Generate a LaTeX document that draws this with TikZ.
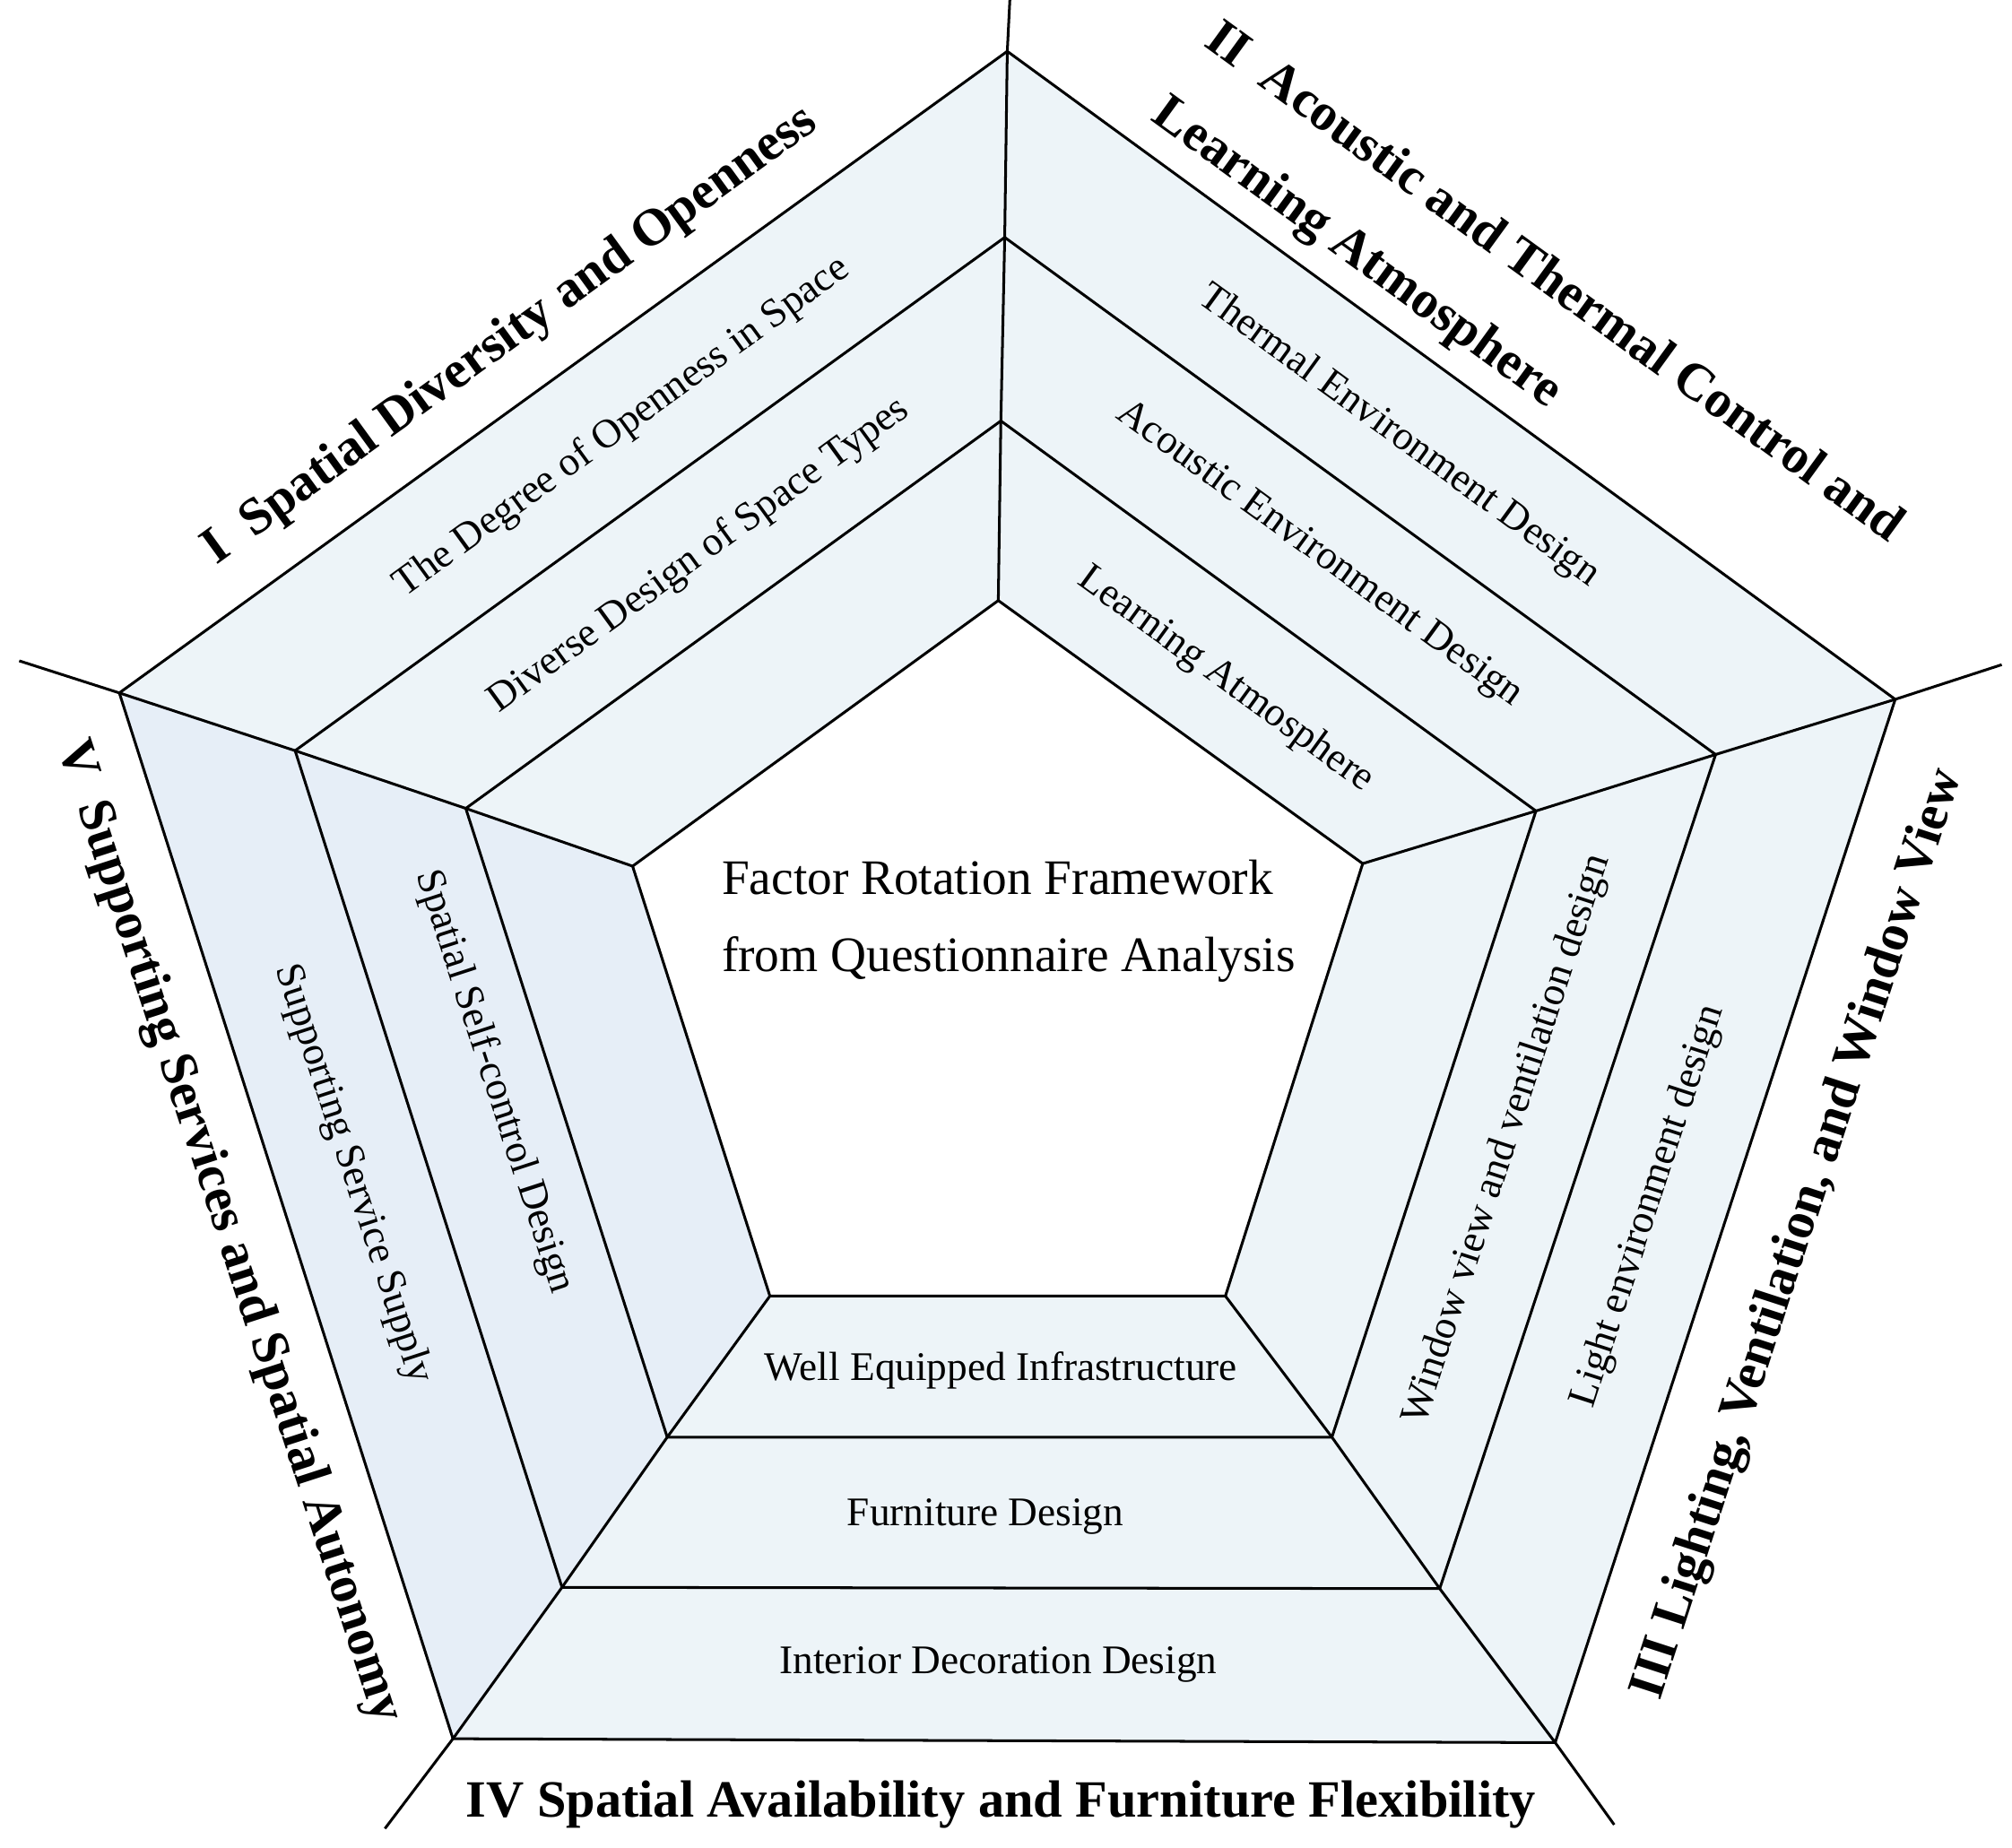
\documentclass[tikz,border=0pt]{standalone}
\usepackage{fontspec}
\setmainfont{Liberation Serif}
\begin{document}
\begin{tikzpicture}[x=0.01cm,y=-0.01cm,
  ln/.style={line width=0.6pt,black},
  ttl/.style={font=\bfseries\fontsize{11.6}{14}\selectfont,inner sep=0},
  lab/.style={font=\fontsize{9}{11}\selectfont,inner sep=0},
  ]
\useasboundingbox (0,0) rectangle (1568,1440);
\definecolor{fillA}{HTML}{EDF4F8}
\definecolor{fillB}{HTML}{E6EEF7}
\coordinate (oT) at (785,40);   \coordinate (oR) at (1477,545);
\coordinate (oBR) at (1212,1358); \coordinate (oBL) at (353,1355);
\coordinate (oL) at (93,540);
\coordinate (bT) at (783,185);  \coordinate (bR) at (1337,588);
\coordinate (bBR) at (1122,1238); \coordinate (bBL) at (438,1237);
\coordinate (bL) at (230,585);
\coordinate (cT) at (780,328);  \coordinate (cR) at (1197,632);
\coordinate (cBR) at (1038,1120); \coordinate (cBL) at (520,1120);
\coordinate (cL) at (363,630);
\coordinate (dT) at (778,468);  \coordinate (dR) at (1062,673);
\coordinate (dBR) at (955,1010); \coordinate (dBL) at (600,1010);
\coordinate (dL) at (493,675);
\coordinate (eT) at (787,0);    \coordinate (eR) at (1560,518);
\coordinate (eBR) at (1258,1422); \coordinate (eBL) at (300,1425);
\coordinate (eL) at (15,515);
\fill[fillA] (oT)--(oR)--(oBR)--(oBL)--(oL)--cycle;
\fill[fillB] (oL)--(dL)--(dBL)--(oBL)--cycle;
\fill[white] (dT)--(dR)--(dBR)--(dBL)--(dL)--cycle;
\draw[ln] (oT)--(oR)--(oBR)--(oBL)--(oL)--cycle;
\draw[ln] (bT)--(bR)--(bBR)--(bBL)--(bL)--cycle;
\draw[ln] (cT)--(cR)--(cBR)--(cBL)--(cL)--cycle;
\draw[ln] (dT)--(dR)--(dBR)--(dBL)--(dL)--cycle;
\draw[ln] (dT)--(cT)--(bT)--(oT)--(eT);
\draw[ln] (dR)--(cR)--(bR)--(oR)--(eR);
\draw[ln] (dBR)--(cBR)--(bBR)--(oBR)--(eBR);
\draw[ln] (dBL)--(cBL)--(bBL)--(oBL)--(eBL);
\draw[ln] (dL)--(cL)--(bL)--(oL)--(eL);
% titles
\node[ttl,rotate=36] (t1) at (398,262) {I\ \ Spatial Diversity and Openness};
\node[ttl,rotate=-36] (t2a) at (1213,218) {II\ \ Acoustic and Thermal Control and};
\node[ttl,rotate=-36] (t2b) at (1057,198) {Learning Atmosphere};
\node[ttl,rotate=72] (t3) at (1402,962) {III\ Lighting, Ventilation, and Window View};
\node[ttl] (t4) at (780,1406) {IV Spatial Availability and Furniture Flexibility};
\node[ttl,rotate=-72] (t5) at (178,960) {V\ \ Supporting Services and Spatial Autonomy};
% labels
\node[lab,rotate=36] (l1) at (485,333) {The Degree of Openness in Space};
\node[lab,rotate=36] (l2) at (545,433) {Diverse Design of Space Types};
\node[lab,rotate=-36] (l3) at (1090,340) {Thermal Environment Design};
\node[lab,rotate=-36] (l4) at (1028,432) {Acoustic Environment Design};
\node[lab,rotate=-36] (l5) at (955,530) {Learning Atmosphere};
\node[lab,rotate=72] (l6) at (1285,940) {Light environment design};
\node[lab,rotate=72] (l7) at (1175,888) {Window view and ventilation design};
\node[lab] (l8) at (780,1068) {Well Equipped Infrastructure};
\node[lab] (l9) at (768,1182) {Furniture Design};
\node[lab] (l10) at (778,1297) {Interior Decoration Design};
\node[lab,rotate=-72] (l11) at (385,843) {Spatial Self-control Design};
\node[lab,rotate=-72] (l12) at (275,915) {Supporting Service Supply};
\node[font=\fontsize{11}{17}\selectfont,align=left,inner sep=0] (c) at (786,718)
  {Factor Rotation Framework\\from Questionnaire Analysis};
\end{tikzpicture}
\end{document}
